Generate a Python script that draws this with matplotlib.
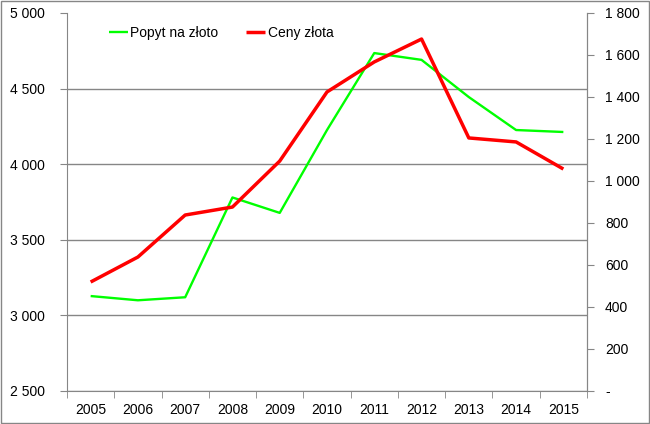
import matplotlib
matplotlib.use("Agg")
import matplotlib.pyplot as plt
from matplotlib.ticker import FuncFormatter, FixedLocator
from matplotlib.patches import Rectangle
import numpy as np

plt.rcParams["font.family"] = ["Liberation Sans", "DejaVu Sans"]

years = ["2005", "2006", "2007", "2008", "2009", "2010", "2011", "2012", "2013", "2014", "2015"]
popyt = [3128, 3100, 3120, 3780, 3678, 4226, 4735, 4690, 4444, 4226, 4213]   # left axis
ceny = [519, 638, 838, 876, 1095, 1424, 1567, 1676, 1205, 1186, 1057]         # right axis

GRAY = "#868686"
fig = plt.figure(figsize=(6.5, 4.24), dpi=100)
fig.patches.append(Rectangle((0.0008, 0.0012), 0.9984, 0.9976, transform=fig.transFigure,
                             fill=False, edgecolor=GRAY, linewidth=1.0))
ax = fig.add_axes([67 / 650, 33 / 424, 520 / 650, 378 / 424])
ax2 = ax.twinx()

x = np.arange(len(years))
ax.plot(x, popyt, color="#00FF00", lw=1.7, label="Popyt na złoto", solid_capstyle="butt")
ax2.plot(x, ceny, color="#FF0000", lw=2.5, label="Ceny złota", solid_capstyle="butt")

ax.set_xlim(-0.5, len(years) - 0.5)
ax.set_ylim(2500, 5000)
ax2.set_ylim(0, 1800)
ax.set_yticks(np.arange(2500, 5001, 500))
ax2.set_yticks(np.arange(0, 1801, 200))

thou = lambda v, p: f"{int(v):,}".replace(",", " ")
ax.yaxis.set_major_formatter(FuncFormatter(thou))
ax2.yaxis.set_major_formatter(FuncFormatter(lambda v, p: "-" if v == 0 else thou(v, p)))

ax.set_xticks(x)
ax.set_xticklabels(years)
ax.xaxis.set_minor_locator(FixedLocator(np.arange(-0.5, len(years), 1.0)))
ax.tick_params(axis="x", which="major", length=0, pad=9, labelsize=10)
ax.tick_params(axis="x", which="minor", length=5, color=GRAY, direction="out")
ax.tick_params(axis="y", length=5, color=GRAY, labelsize=10, pad=11)
ax2.tick_params(axis="y", length=5, color=GRAY, labelsize=10, pad=8)

ax.yaxis.grid(True, color=GRAY, lw=1.0)
ax.get_ygridlines()[-1].set_visible(False)
ax.set_axisbelow(True)

for a in (ax, ax2):
    a.spines["top"].set_visible(False)
    for s in ("left", "right", "bottom"):
        a.spines[s].set_color(GRAY)
ax2.spines["left"].set_visible(False)
ax2.spines["bottom"].set_visible(False)

h1, l1 = ax.get_legend_handles_labels()
h2, l2 = ax2.get_legend_handles_labels()
ax2.legend(h1 + h2, l1 + l2, loc="upper left", bbox_to_anchor=(0.056, 0.998), ncol=2,
           frameon=False, fontsize=10, handlelength=1.4, handletextpad=0.15, columnspacing=2.0)

fig.savefig("out.png", dpi=100)
